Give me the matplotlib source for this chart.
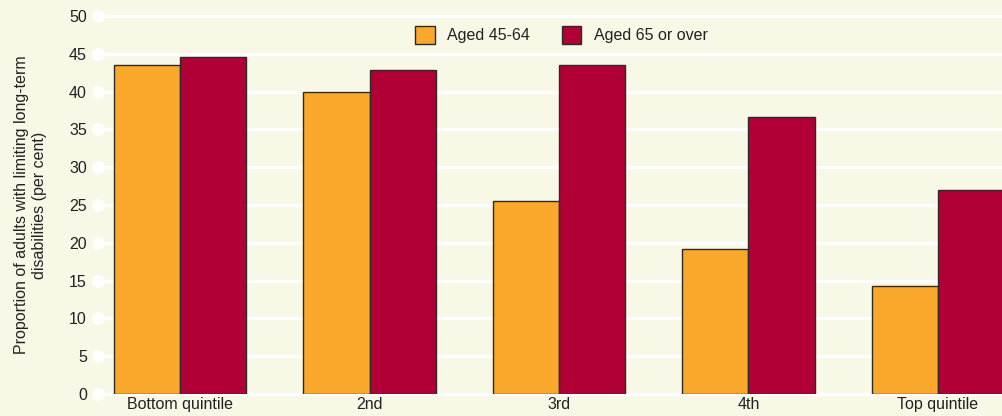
import matplotlib.pyplot as plt
import numpy as np

categories = ["Bottom quintile", "2nd", "3rd", "4th", "Top quintile"]
aged_45_64 = [43.5, 39.9, 25.5, 19.2, 14.3]
aged_65_over = [44.6, 42.9, 43.5, 36.6, 27.0]
yticks = [0, 5, 10, 15, 20, 25, 30, 35, 40, 45, 50]

bg = "#f7f8e6"
orange = "#f9a82c"
crimson = "#b00035"

plt.rcParams["font.family"] = ["Liberation Sans", "DejaVu Sans"]

fig = plt.figure(figsize=(10.02, 4.16), dpi=100, facecolor=bg)
ax = fig.add_axes([98 / 1002, 22 / 416, 1 - 98 / 1002, 378 / 416])
ax.set_facecolor(bg)

x = np.arange(len(categories))
w = 0.35
ax.bar(x - w / 2, aged_45_64, w, color=orange, edgecolor="#2b2b2b", linewidth=1, label="Aged 45-64", zorder=3)
ax.bar(x + w / 2, aged_65_over, w, color=crimson, edgecolor="#2b2b2b", linewidth=1, label="Aged 65 or over", zorder=3)

xmin, xmax = -0.433, 4.338
ax.set_xlim(xmin, xmax)
ax.set_ylim(0, 50)

# white grid lines with a round dot at the left end
for t in yticks:
    ax.axhline(t, color="white", linewidth=2.5, zorder=1, clip_on=False)
ax.scatter([xmin] * len(yticks), yticks, s=70, color="white", zorder=2, clip_on=False)

fs = 11.5
ax.set_yticks(yticks)
ax.set_yticklabels([str(t) for t in yticks], fontsize=fs, color="#222222")
ax.set_xticks(x)
ax.set_xticklabels(categories, fontsize=fs, color="#222222")
ax.tick_params(length=0)
ax.tick_params(axis="y", pad=8)
ax.tick_params(axis="x", pad=2)
for s in ax.spines.values():
    s.set_visible(False)

ax.set_ylabel("Proportion of adults with limiting long-term\ndisabilities (per cent)", fontsize=fs, color="#222222", labelpad=16)

leg = ax.legend(loc="upper center", bbox_to_anchor=(0.513, 1.008), ncol=2, frameon=True,
                facecolor=bg, edgecolor=bg, framealpha=1, fontsize=fs,
                handlelength=1.2, handleheight=1.4, columnspacing=2.0, borderpad=0.3)
for t in leg.get_texts():
    t.set_color("#222222")

fig.savefig("out.png", dpi=100, facecolor=bg)
